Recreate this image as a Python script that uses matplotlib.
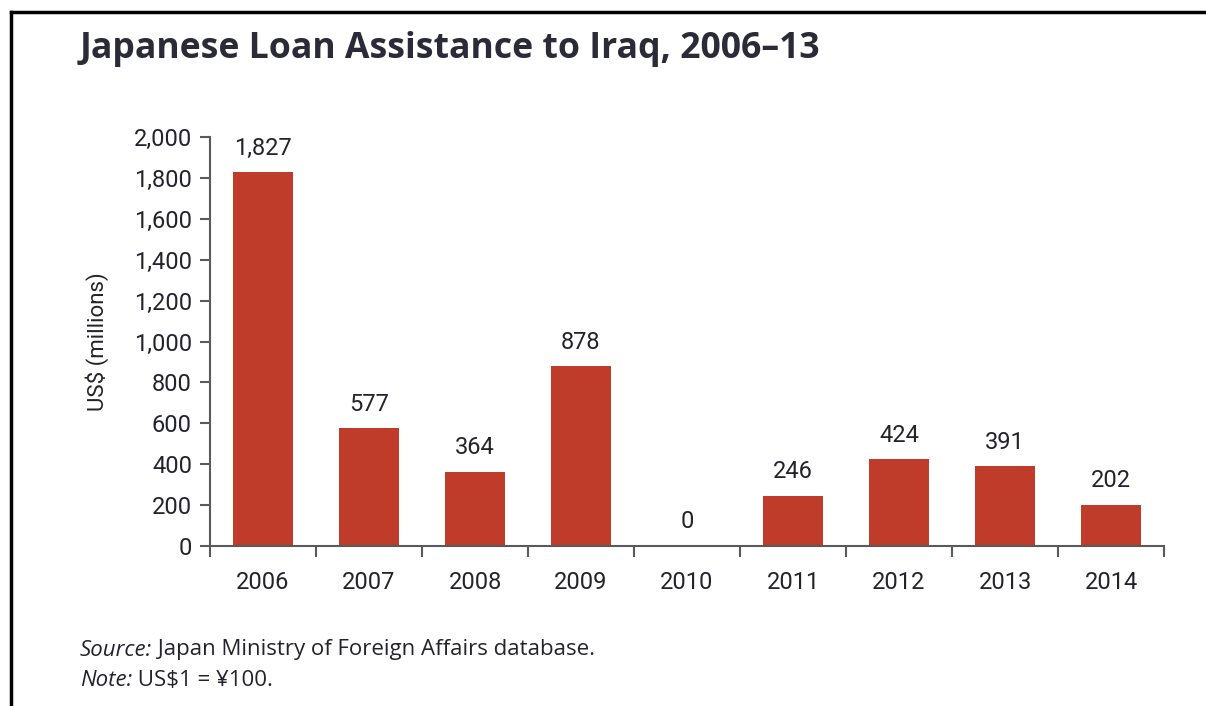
import matplotlib
matplotlib.use("Agg")
import matplotlib.pyplot as plt
from matplotlib import font_manager as fm
from matplotlib.lines import Line2D

years = ["2006", "2007", "2008", "2009", "2010", "2011", "2012", "2013", "2014"]
values = [1827, 577, 364, 878, 0, 246, 424, 391, 202]
value_labels = ["1,827", "577", "364", "878", "0", "246", "424", "391", "202"]
yticks = [0, 200, 400, 600, 800, 1000, 1200, 1400, 1600, 1800, 2000]
ytick_labels = ["0", "200", "400", "600", "800", "1,000", "1,200", "1,400", "1,600", "1,800", "2,000"]

names = {f.name for f in fm.fontManager.ttflist}
narrow = "Liberation Sans Narrow" if "Liberation Sans Narrow" in names else "Roboto"
plt.rcParams['font.family'] = [narrow, 'DejaVu Sans']

BAR = "#bf3b2a"
TXT = "#23232e"
AX = "#5a5a5a"
NOTE_FONT = ["Open Sans", "DejaVu Sans"]

fig = plt.figure(figsize=(12.06, 7.06), dpi=100)
ax = fig.add_axes([210/1206, 1-546/706, 954/1206, 409/706])

x = list(range(len(years)))
ax.bar(x, values, width=0.57, color=BAR)
for xi, v, lab in zip(x, values, value_labels):
    ax.annotate(lab, (xi, v), xytext=(0, 9), textcoords="offset points",
                ha="center", va="bottom", fontsize=17, color=TXT)

ax.set_xlim(-0.5, len(years) - 0.5)
ax.set_ylim(0, 2000)
ax.set_yticks(yticks)
ax.set_yticklabels(ytick_labels, fontsize=17, color=TXT)
ax.set_xticks([i - 0.5 for i in range(len(years) + 1)])
ax.set_xticklabels([])
ax.set_xticks(x, minor=True)
ax.set_xticklabels(years, minor=True, fontsize=17, color=TXT)
ax.tick_params(axis="x", which="major", length=8, width=1.5, color=AX, direction="out")
ax.tick_params(axis="x", which="minor", length=0, pad=18)
ax.tick_params(axis="y", length=7, width=1.5, color=AX, pad=6)
for s in ["top", "right"]:
    ax.spines[s].set_visible(False)
for s in ["left", "bottom"]:
    ax.spines[s].set_color(AX)
    ax.spines[s].set_linewidth(1.5)

ax.set_ylabel("US$ (millions)", fontsize=16, color=TXT, labelpad=18)

fig.text(80/1206, 1-49/706, "Japanese Loan Assistance to Iraq, 2006\u201313",
         fontsize=25.7, fontweight="bold", color="#2b2b38", family=NOTE_FONT,
         va="center", ha="left")

t1 = fig.text(80/1206, 1-650/706, "Source:", fontsize=16, style="italic", color=TXT,
              family=NOTE_FONT, va="center", ha="left")
ax.annotate(" Japan Ministry of Foreign Affairs database.", xy=(1, 0.5), xycoords=t1,
            fontsize=16, color=TXT, family=NOTE_FONT, va="center", ha="left",
            annotation_clip=False)
t2 = fig.text(80/1206, 1-680/706, "Note:", fontsize=16, style="italic", color=TXT,
              family=NOTE_FONT, va="center", ha="left")
ax.annotate(" US$1 = \u00a5100.", xy=(1, 0.5), xycoords=t2,
            fontsize=16, color=TXT, family=NOTE_FONT, va="center", ha="left",
            annotation_clip=False)

# frame (left and top)
fig.add_artist(Line2D([11/1206, 11/1206], [0, 1-12/706], transform=fig.transFigure, color="black", lw=2.5))
fig.add_artist(Line2D([11/1206, 1], [1-12/706, 1-12/706], transform=fig.transFigure, color="black", lw=2.5))

fig.savefig("out.png", dpi=100)
